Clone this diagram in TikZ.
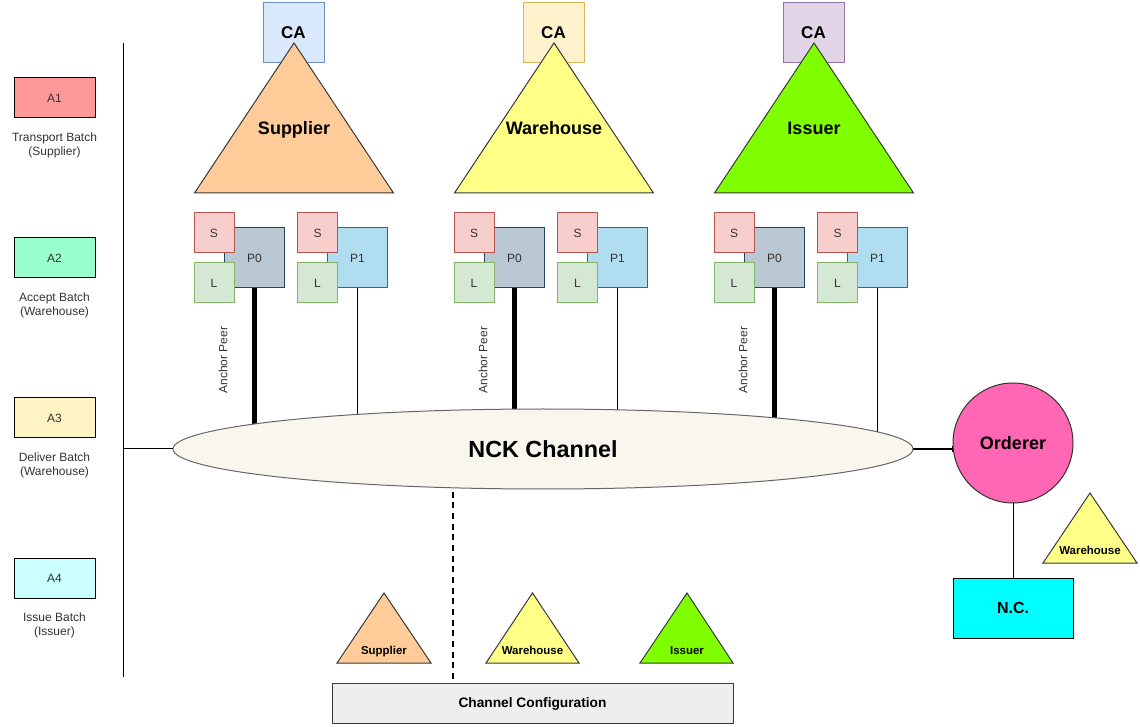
\documentclass[tikz,border=0pt]{standalone}
\usepackage{fontspec}
\setmainfont{Liberation Sans}
\usetikzlibrary{arrows.meta,backgrounds,shapes.geometric}
\newdimen\pxu \pxu=0.75pt
\definecolor{aone}{HTML}{FF9999}
\definecolor{atwo}{HTML}{99FFCC}
\definecolor{athree}{HTML}{FFF4C3}
\definecolor{afour}{HTML}{CCFFFF}
\definecolor{caaf}{HTML}{DAE8FC}\definecolor{caad}{HTML}{6C8EBF}
\definecolor{cabf}{HTML}{FFF2CC}\definecolor{cabd}{HTML}{D6B656}
\definecolor{cacf}{HTML}{E1D5E7}\definecolor{cacd}{HTML}{9673A6}
\definecolor{supc}{HTML}{FFCC99}
\definecolor{whc}{HTML}{FFFF88}
\definecolor{isc}{HTML}{80FF00}
\definecolor{trid}{HTML}{36393D}
\definecolor{sfill}{HTML}{F8CECC}\definecolor{sdraw}{HTML}{B85450}
\definecolor{lfill}{HTML}{D5E8D4}\definecolor{ldraw}{HTML}{82B366}
\definecolor{pzf}{HTML}{BAC8D3}\definecolor{pzd}{HTML}{23445D}
\definecolor{pof}{HTML}{B1DDF0}\definecolor{pod}{HTML}{10739E}
\definecolor{chanf}{HTML}{F9F7ED}
\definecolor{ordf}{HTML}{FF66B3}
\definecolor{ncf}{HTML}{00FFFF}
\definecolor{cfgf}{HTML}{EEEEEE}
\definecolor{txtg}{HTML}{333333}
\begin{document}
\begin{tikzpicture}[x=0.75pt,y=-0.75pt,line width=0.75pt,
  every node/.style={inner sep=0pt,outer sep=0pt},
  legbox/.style={draw=black,minimum width=81\pxu,minimum height=40\pxu,font=\fontsize{9}{10.5}\selectfont,text=txtg},
  legtext/.style={align=center,font=\fontsize{9}{10.5}\selectfont,text=txtg},
  cabox/.style={draw,minimum width=61\pxu,minimum height=60\pxu,font=\bfseries\fontsize{12.75}{14}\selectfont},
  tri/.style={draw=trid,line width=0.75pt},
  bigt/.style={font=\bfseries\fontsize{13.5}{15}\selectfont,text height=0.72em,text depth=0pt},
  smallt/.style={font=\bfseries\fontsize{8.6}{10}\selectfont,text height=0.72em,text depth=0pt},
  sbox/.style={draw=sdraw,fill=sfill,minimum size=40\pxu,font=\fontsize{9}{10}\selectfont,text=txtg},
  lbox/.style={draw=ldraw,fill=lfill,minimum size=40\pxu,font=\fontsize{9}{10}\selectfont,text=txtg},
  pzero/.style={draw=pzd,fill=pzf,minimum size=60\pxu,font=\fontsize{9}{10}\selectfont,text=txtg},
  pone/.style={draw=pod,fill=pof,minimum size=60\pxu,font=\fontsize{9}{10}\selectfont,text=txtg},
  anch/.style={rotate=90,font=\fontsize{9}{10}\selectfont,text=txtg},
  thickln/.style={line width=3.75pt},
]
\useasboundingbox (0,0) rectangle (1140,727);

% legend
\node[legbox,fill=aone] (a1) at (54.5,98) {A1};
\node[legtext] (a1t) at (54.5,145) {Transport Batch\\(Supplier)};
\node[legbox,fill=atwo] (a2) at (54.5,258) {A2};
\node[legtext] (a2t) at (54.5,305) {Accept Batch\\(Warehouse)};
\node[legbox,fill=athree] (a3) at (54.5,418) {A3};
\node[legtext] (a3t) at (54.5,465) {Deliver Batch\\(Warehouse)};
\node[legbox,fill=afour] (a4) at (54.5,578) {A4};
\node[legtext] (a4t) at (54.5,625) {Issue Batch\\(Issuer)};
\coordinate (lt) at (123,43);
\coordinate (lb) at (123,677);
\coordinate (lm) at (123,449);
\draw (lt) -- (lb);

% channel
\node[ellipse,draw=black!60,fill=chanf,minimum width=740\pxu,minimum height=80\pxu,font=\bfseries\fontsize{17.5}{20}\selectfont] (chan) at (543,449) {NCK Channel};
\draw (lm) -- (chan.west);

% organisations
\foreach \k/\dx/\tname/\tcol/\caf/\cad in {1/0/Supplier/supc/caaf/caad,2/260/Warehouse/whc/cabf/cabd,3/520/Issuer/isc/cacf/cacd}{
  \node[cabox,fill=\caf,draw=\cad] (ca\k) at (293.5+\dx,33) {CA};
  \draw[tri,fill=\tcol] (294+\dx,43) -- (393.5+\dx,193) -- (194.5+\dx,193) -- cycle;
  \node[bigt] (t\k) at (294+\dx,130) {\tname};
  \node[pzero] (pz\k) at (254.5+\dx,258) {P0};
  \node[sbox] (sa\k) at (214+\dx,233) {S};
  \node[lbox] (la\k) at (214+\dx,283) {L};
  \node[pone] (po\k) at (357.5+\dx,258) {P1};
  \node[sbox] (sb\k) at (317.5+\dx,233) {S};
  \node[lbox] (lb\k) at (317.5+\dx,283) {L};
  \node[anch] (an\k) at (223+\dx,360) {Anchor Peer};
  \begin{scope}[on background layer]
    \draw[thickln] (pz\k.south) -- (pz\k.south |- chan.center);
    \draw (po\k.south) -- (po\k.south |- chan.center);
  \end{scope}
}

% orderer
\node[circle,draw=black!80,fill=ordf,minimum size=120\pxu,font=\bfseries\fontsize{13.5}{15}\selectfont] (ord) at (1013,443) {Orderer};
\draw[line width=1.5pt,-{Bar[width=5pt,line width=0.75pt]}] (chan.east) -- (chan.east -| ord.west);
\node[draw=black,fill=ncf,minimum width=120\pxu,minimum height=60\pxu,font=\bfseries\fontsize{12}{14}\selectfont] (nc) at (1013,608) {N.C.};
\draw (ord.south) -- (nc.north);
\draw[tri,fill=whc] (1090,493) -- (1137,563) -- (1043,563) -- cycle;
\node[smallt] (rw) at (1090,550) {Warehouse};

% bottom
\node[draw=trid,fill=cfgf,minimum width=401\pxu,minimum height=40\pxu,text height=0.72em,text depth=0pt,font=\bfseries\fontsize{10.3}{12}\selectfont] (cfg) at (532.5,703) {Channel Configuration};
\coordinate (dtop) at (453,449);
\begin{scope}[on background layer]
  \draw[line width=1.5pt,dash pattern=on 4.5pt off 3.5pt] (dtop) -- (dtop |- cfg.north);
\end{scope}
\draw[tri,fill=supc] (384,593) -- (431,663) -- (337,663) -- cycle;
\node[smallt] (bs) at (384,650) {Supplier};
\draw[tri,fill=whc] (532.5,593) -- (579,663) -- (486,663) -- cycle;
\node[smallt] (bw) at (532.5,650) {Warehouse};
\draw[tri,fill=isc] (687,593) -- (733,663) -- (640,663) -- cycle;
\node[smallt] (bi) at (687,650) {Issuer};
\end{tikzpicture}
\end{document}
